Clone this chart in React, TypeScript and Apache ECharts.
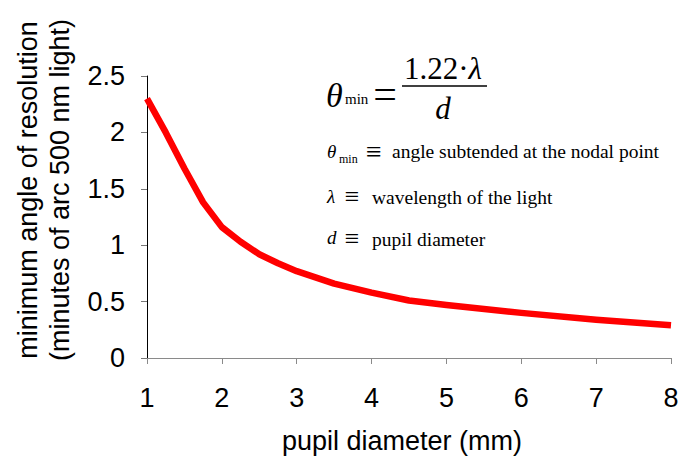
import React, { useEffect, useRef } from "react";
import * as echarts from "echarts";

const diameters = [1, 1.25, 1.5, 1.75, 2, 2.25, 2.5, 2.75, 3, 3.5, 4, 4.5, 5, 6, 7, 8];
const angles = [2.3, 2.0, 1.68, 1.38, 1.16, 1.03, 0.92, 0.84, 0.77, 0.66, 0.58, 0.51, 0.47, 0.4, 0.34, 0.29];
const yTitleLines = ["minimum angle of resolution", "(minutes of arc 500 nm light)"];
const xTitle = "pupil diameter (mm)";

const SANS = "'Liberation Sans', Arial, Helvetica, sans-serif";
const SERIF = "'Liberation Serif', 'Times New Roman', serif";

export default function App() {
  const ref = useRef<HTMLDivElement>(null);
  useEffect(() => {
    if (!ref.current) return;
    const chart = echarts.init(ref.current, undefined, { renderer: "svg" });
    const data = diameters.map((d, i) => [d, angles[i]]);
    const t = (x: number, y: number, text: string, fontSize: number, extra: any = {}) => ({
      type: "text",
      x,
      y,
      style: { text, fontSize, fontFamily: SERIF, fill: "#000", align: "left", verticalAlign: "middle", ...extra },
    });
    chart.setOption({
      animation: false,
      backgroundColor: "#ffffff",
      grid: { left: 147, right: 11, top: 76, bottom: 99, containLabel: false },
      xAxis: {
        type: "value",
        min: 1,
        max: 8,
        interval: 1,
        axisLine: { show: true, lineStyle: { color: "#8a8a8a", width: 1 } },
        axisTick: { show: true, length: 6, lineStyle: { color: "#8a8a8a" } },
        axisLabel: { color: "#000", fontSize: 27, fontFamily: SANS, margin: 26 },
        splitLine: { show: false },
      },
      yAxis: {
        type: "value",
        min: 0,
        max: 2.5,
        interval: 0.5,
        axisLine: { show: true, lineStyle: { color: "#000", width: 1 } },
        axisTick: { show: true, length: 6, lineStyle: { color: "#777" } },
        axisLabel: { color: "#000", fontSize: 27, fontFamily: SANS, margin: 22 },
        splitLine: { show: false },
      },
      series: [
        {
          type: "line",
          data,
          showSymbol: false,
          symbol: "none",
          lineStyle: { color: "#ff0000", width: 6.5, join: "round" },
          smooth: false,
        },
      ],
      graphic: [
        {
          type: "text",
          x: 28,
          y: 190,
          rotation: Math.PI / 2,
          style: { text: yTitleLines[0], fontSize: 27, fontFamily: SANS, fill: "#000", align: "center", verticalAlign: "middle" },
        },
        {
          type: "text",
          x: 60,
          y: 190,
          rotation: Math.PI / 2,
          style: { text: yTitleLines[1], fontSize: 27, fontFamily: SANS, fill: "#000", align: "center", verticalAlign: "middle" },
        },
        {
          type: "text",
          x: 402,
          y: 441,
          style: { text: xTitle, fontSize: 27, fontFamily: SANS, fill: "#000", align: "center", verticalAlign: "middle" },
        },
        // main formula
        t(326, 95, "θ", 34, { fontStyle: "italic" }),
        t(345, 99, "min", 15),
        t(385, 94, "=", 42, { align: "center" }),
        {
          type: "text",
          x: 443,
          y: 68,
          style: {
            text: "{n|1.22·}{l|λ}",
            align: "center",
            verticalAlign: "middle",
            rich: {
              n: { fontSize: 31, fontFamily: SERIF, fill: "#000" },
              l: { fontSize: 31, fontFamily: SERIF, fontStyle: "italic", fill: "#000" },
            },
          },
        },
        {
          type: "line",
          shape: { x1: 402, y1: 86, x2: 487, y2: 86 },
          style: { stroke: "#000", lineWidth: 1.3 },
        },
        t(443, 108, "d", 31, { fontStyle: "italic", align: "center" }),
        // definitions
        t(327, 151, "θ", 19, { fontStyle: "italic" }),
        t(339, 159, "min", 12),
        t(374, 151, "≡", 28, { align: "center" }),
        t(392, 151, "angle subtended at the nodal point", 19.5),
        t(352, 196, "≡", 26, { align: "center" }),
        t(327, 196, "λ", 19, { fontStyle: "italic" }),
        t(372, 197, "wavelength of the light", 19.5),
        t(327, 237, "d", 19, { fontStyle: "italic" }),
        t(352, 238, "≡", 26, { align: "center" }),
        t(372, 239, "pupil diameter", 19.5),
      ],
    });
    return () => chart.dispose();
  }, []);
  return <div ref={ref} style={{ width: 682, height: 457, position: "absolute", left: 0, top: 0 }} />;
}
